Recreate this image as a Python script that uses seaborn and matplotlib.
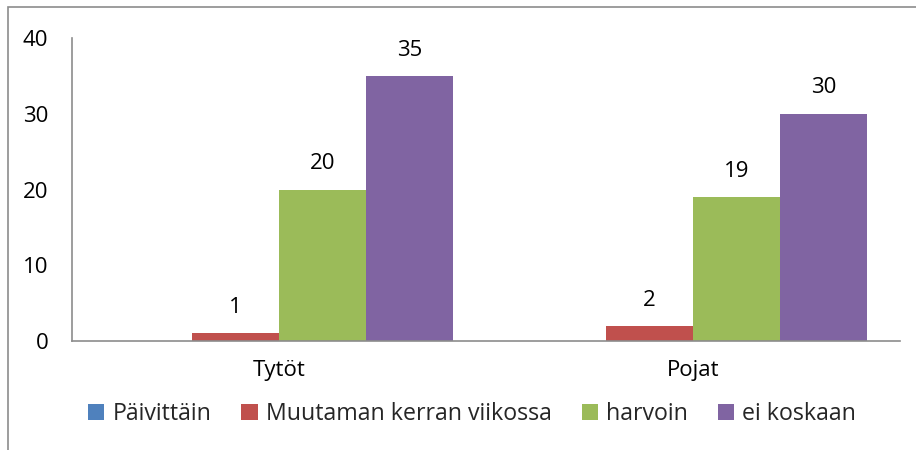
import matplotlib
matplotlib.use("Agg")
import matplotlib.pyplot as plt
import seaborn as sns
import pandas as pd
from matplotlib.patches import Rectangle

groups = ["Tytöt", "Pojat"]
series = ["Päivittäin", "Muutaman kerran viikossa", "harvoin", "ei koskaan"]
values = {
    "Päivittäin": [0, 0],
    "Muutaman kerran viikossa": [1, 2],
    "harvoin": [20, 19],
    "ei koskaan": [35, 30],
}
colors = ["#4F81BD", "#C0504D", "#9BBB59", "#8064A2"]
yticks = [0, 10, 20, 30, 40]

rows = []
for s in series:
    for g, v in zip(groups, values[s]):
        rows.append({"group": g, "series": s, "value": v})
df = pd.DataFrame(rows)

sns.set_theme(style="white")
plt.rcParams['font.family'] = ['Open Sans', 'DejaVu Sans']

FS = 16
W, H = 916, 450
fig = plt.figure(figsize=(W / 100, H / 100), dpi=100)
ax = fig.add_axes([72 / W, (H - 341) / H, (900 - 72) / W, (341 - 38) / H])

sns.barplot(data=df, x="group", y="value", hue="series", hue_order=series,
            order=groups, palette=colors, width=0.84, ax=ax, legend=False,
            saturation=1, edgecolor="none", linewidth=0, errorbar=None)

ax.set_ylim(0, 40)
ax.set_xlim(-0.5, 1.5)
ax.set_yticks(yticks)
ax.set_yticklabels([str(t) for t in yticks])
ax.set_xlabel("")
ax.set_ylabel("")
ax.tick_params(axis="both", length=0, labelsize=FS, colors="black")
ax.tick_params(axis="y", pad=17)
ax.tick_params(axis="x", pad=14)
for sp in ["top", "right"]:
    ax.spines[sp].set_visible(False)
for sp in ["left", "bottom"]:
    ax.spines[sp].set_color("#8C8C8C")
    ax.spines[sp].set_linewidth(1.2)

for cont in ax.containers:
    labels = [("" if (v is None or v == 0) else f"{v:g}") for v in cont.datavalues]
    ax.bar_label(cont, labels=labels, padding=11, fontsize=FS, color="black")

handles = [Rectangle((0, 0), 1, 1, facecolor=c, edgecolor="none") for c in colors]
fig.legend(handles, series, loc="center left", bbox_to_anchor=(88 / W, 1 - 414 / H),
           ncol=4, frameon=False, fontsize=16.7, handlelength=0.7, handleheight=0.7,
           handletextpad=0.35, columnspacing=1.3, borderaxespad=0, borderpad=0)

# chart frame
fig.patches.append(Rectangle((8 / W, -0.1), 1.2, 1 - 7 / H + 0.1, transform=fig.transFigure,
                             fill=False, edgecolor="#8C8C8C", linewidth=1.2))

fig.savefig("out.png", dpi=100)
